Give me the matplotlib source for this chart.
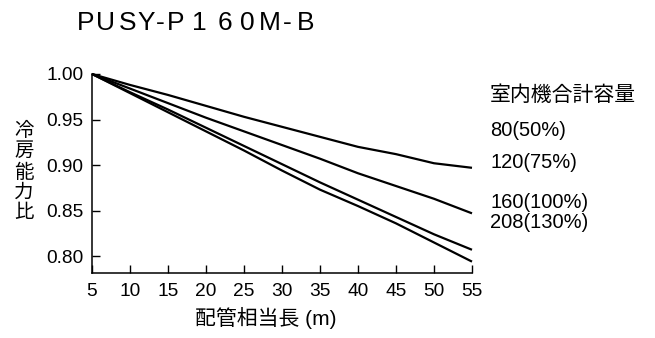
import matplotlib
matplotlib.use('Agg')
import matplotlib.pyplot as plt

plt.rcParams['font.family'] = ['Liberation Sans', 'Noto Sans CJK JP', 'DejaVu Sans']

#### DATA ####
dist = [5, 10, 15, 20, 25, 30, 35, 40, 45, 50, 55]
cap_80 = [1.000, 0.988, 0.977, 0.965, 0.953, 0.942, 0.931, 0.920, 0.912, 0.902, 0.897]
cap_120 = [1.000, 0.984, 0.968, 0.952, 0.937, 0.922, 0.907, 0.891, 0.877, 0.863, 0.847]
cap_160 = [1.000, 0.980, 0.961, 0.941, 0.921, 0.901, 0.881, 0.862, 0.843, 0.824, 0.807]
cap_208 = [1.000, 0.979, 0.958, 0.937, 0.916, 0.894, 0.873, 0.855, 0.836, 0.815, 0.794]

series_labels = ['80(50%)', '120(75%)', '160(100%)', '208(130%)']
legend_title = '室内機合計容量'
title = 'PUSY-P160M-B'
xlabel = '配管相当長 (m)'
ylabel = '冷房能力比'
xticks = [5, 10, 15, 20, 25, 30, 35, 40, 45, 50, 55]
yticks = [0.80, 0.85, 0.90, 0.95, 1.00]

W, H = 655, 338

def fx(px):
    return px / W

def fy(py):
    return 1 - py / H

fig = plt.figure(figsize=(W / 100, H / 100), dpi=100)
ax = fig.add_axes([fx(92), fy(273), (472 - 92) / W, (273 - 74) / H])

for vals in [cap_80, cap_120, cap_160, cap_208]:
    ax.plot(dist, vals, color='black', lw=1.6, clip_on=False, solid_capstyle='butt')

ax.set_xlim(5, 55)
ax.set_ylim(0.7815, 1.0)
ax.set_xticks(xticks)
ax.set_xticklabels([str(t) for t in xticks])
ax.set_yticks(yticks)
ax.set_yticklabels([f'{t:.2f}' for t in yticks])
for s in ['top', 'right']:
    ax.spines[s].set_visible(False)
for s in ['left', 'bottom']:
    ax.spines[s].set_linewidth(1.1)
ax.tick_params(direction='in', length=5.5, width=1.0, labelsize=13.8, colors='black')
ax.tick_params(axis='x', pad=7.5)
ax.tick_params(axis='y', pad=6)

# title, drawn with wide letter spacing
title_cx = [85.5, 105, 127.5, 146, 160.5, 175.5, 199, 224.5, 247.5, 270, 287.5, 306]
for ch, cx in zip(title, title_cx):
    fig.text(fx(cx), fy(23), ch, ha='center', va='center', fontsize=19)

# axis labels
fig.text(fx(265.5), fy(318), xlabel, ha='center', va='center', fontsize=15)
fig.text(fx(24), fy(172), '\n'.join(ylabel), ha='center', va='center',
         fontsize=14, linespacing=1.22)

# right side labels
fig.text(fx(490), fy(95), legend_title, ha='left', va='center', fontsize=15)
label_y = [130, 163, 203, 223]
for lab, ly in zip(series_labels, label_y):
    fig.text(fx(490), fy(ly), lab, ha='left', va='center', fontsize=14.5)

fig.savefig('out.png', dpi=100)
